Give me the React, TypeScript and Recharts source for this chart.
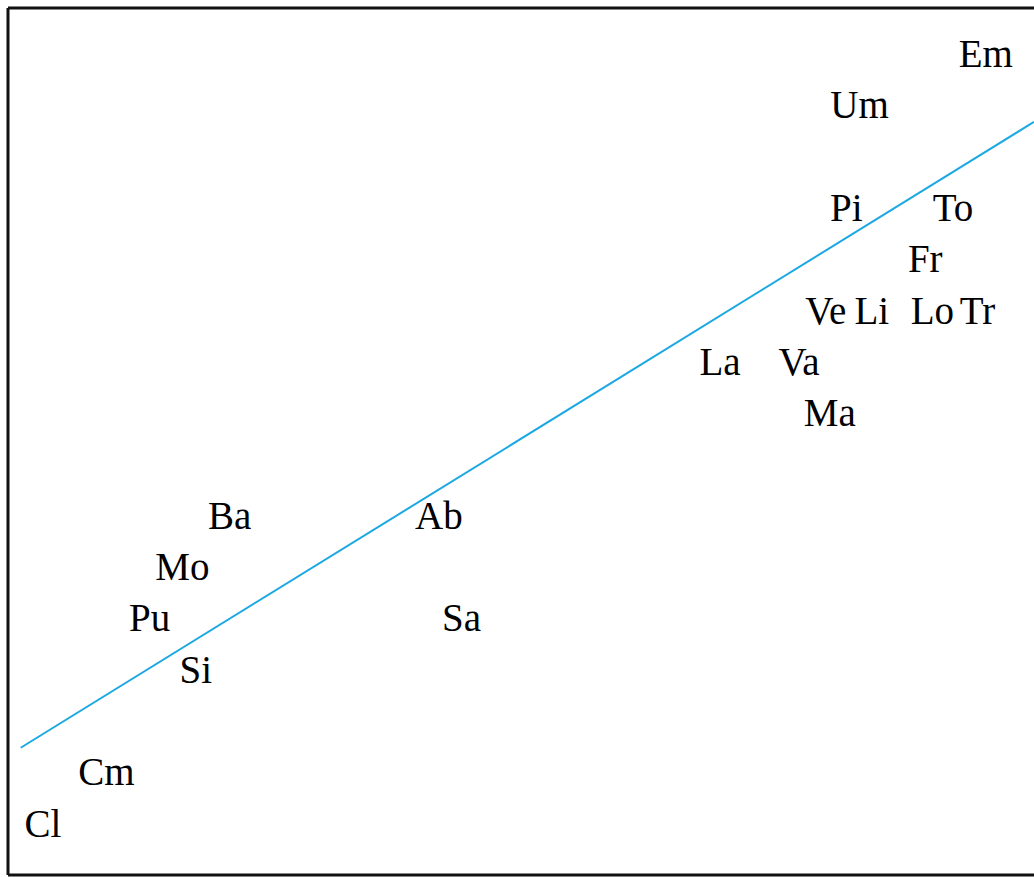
import { ScatterChart, Scatter, XAxis, YAxis, ReferenceLine } from "recharts";

// region abbreviations and their positions (x score, y rank)
const REGIONS = ["Em", "Um", "Pi", "To", "Fr", "Ve", "Li", "Lo", "Tr", "La", "Va", "Ma", "Ba", "Ab", "Mo", "Pu", "Sa", "Si", "Cm", "Cl"];
const X_SCORE = [95.3, 83.0, 81.7, 92.1, 89.4, 79.7, 84.2, 90.1, 94.5, 69.4, 77.1, 80.1, 21.6, 42.0, 17.0, 13.8, 44.2, 18.3, 9.6, 3.4];
const Y_RANK = [15, 14, 12, 12, 11, 10, 10, 10, 10, 9, 9, 8, 6, 6, 5, 4, 4, 3, 1, 0];

// fitted line endpoints
const TREND_X = [1.24, 100];
const TREND_Y = [1.48, 13.68];

const X_DOMAIN = [0, 100];
const Y_DOMAIN = [-1, 15.9];

const FONT_SIZE = 39;
const FRAME = "#111";
const BLUE = "#1ca8e2";

const LabelShape = (props: any) => {
  const { cx, cy, payload } = props;
  if (cx == null || cy == null) return <g />;
  return (
    <text
      x={cx}
      y={cy + FONT_SIZE * 0.33}
      textAnchor="middle"
      fontFamily="'Liberation Serif', serif"
      fontSize={FONT_SIZE}
      fill="#000"
    >
      {payload.name}
    </text>
  );
};

export default function App() {
  const labels = REGIONS.map((name, i) => ({ name, x: X_SCORE[i], y: Y_RANK[i] }));
  const trend = TREND_X.map((x, i) => ({ x, y: TREND_Y[i] }));

  return (
    <div style={{ position: "fixed", left: 0, top: 0, width: 1034, height: 877, background: "#fff" }}>
      <ScatterChart width={1034} height={877} margin={{ top: 8, right: 0, bottom: 2, left: 8 }}>
        <XAxis type="number" dataKey="x" domain={X_DOMAIN} allowDataOverflow hide />
        <YAxis type="number" dataKey="y" domain={Y_DOMAIN} allowDataOverflow hide />
        <ReferenceLine y={Y_DOMAIN[1]} stroke={FRAME} strokeWidth={3} />
        <ReferenceLine y={Y_DOMAIN[0]} stroke={FRAME} strokeWidth={3} />
        <ReferenceLine x={X_DOMAIN[0]} stroke={FRAME} strokeWidth={3} />
        <Scatter
          data={trend}
          line={{ stroke: BLUE, strokeWidth: 2 }}
          shape={() => <g />}
          isAnimationActive={false}
        />
        <Scatter data={labels} shape={LabelShape} isAnimationActive={false} />
      </ScatterChart>
    </div>
  );
}
